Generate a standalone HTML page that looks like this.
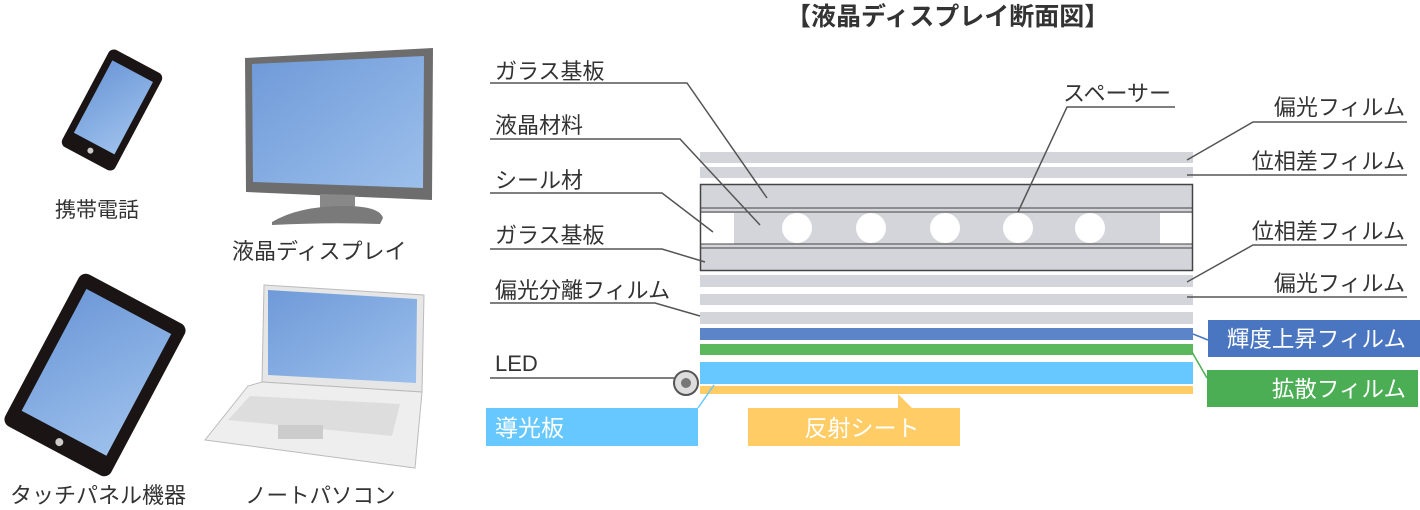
<!DOCTYPE html>
<html><head><meta charset="utf-8"><style>
html,body{margin:0;padding:0;background:#fff;width:1420px;height:510px;overflow:hidden}
svg{display:block}
text{font-family:"Liberation Sans","Noto Sans CJK JP",sans-serif;fill:#333}
</style></head><body>
<svg width="1420" height="510" viewBox="0 0 1420 510" xmlns="http://www.w3.org/2000/svg">
<defs>
<linearGradient id="scr" x1="0" y1="0" x2="1" y2="1"><stop offset="0" stop-color="#6f9ad8"/><stop offset="1" stop-color="#9cc0ec"/></linearGradient>
</defs>
<!-- devices -->
<g transform="translate(112,110) rotate(28)">
<rect x="-30" y="-55" width="60" height="110" rx="6" fill="#1a1414"/>
<rect x="-23" y="-44" width="46" height="82" fill="url(#scr)"/>
<circle cx="0" cy="46" r="3" fill="#ccc"/>
</g>
<text x="55" y="217" font-size="21">携帯電話</text>
<!-- monitor -->
<polygon points="245,58 433,48 432,200 246,192" fill="#6d6d6d"/>
<polygon points="252,64 424,56 423,188 253,182" fill="url(#scr)"/>
<polygon points="320,194 355,195 355,212 320,210" fill="#888"/>
<path d="M272,222 Q300,205 350,206 Q380,207 383,218 L380,224 Q330,222 272,225 Z" fill="#7a7a7a"/>
<text x="232" y="259" font-size="22">液晶ディスプレイ</text>
<!-- tablet -->
<g transform="translate(95,375) rotate(28)">
<rect x="-60" y="-86" width="120" height="172" rx="8" fill="#1a1414"/>
<rect x="-48" y="-72" width="96" height="138" fill="url(#scr)"/>
<circle cx="0" cy="76" r="4" fill="#ccc"/>
</g>
<text x="10" y="503" font-size="22">タッチパネル機器</text>
<!-- laptop -->
<polygon points="264,285 424,295 422,392 262,382" fill="#e6e6e6" stroke="#bbb"/>
<polygon points="268,290 417,299 416,383 268,375" fill="url(#scr)"/>
<polygon points="262,382 422,392 415,468 205,440 248,386" fill="#eee" stroke="#bbb"/>
<polygon points="250,396 400,404 392,436 228,420" fill="#ddd"/>
<rect x="278" y="425" width="45" height="14" fill="#ccc"/>
<text x="245" y="503" font-size="21.5">ノートパソコン</text>

<!-- title -->
<text x="786" y="25" font-size="25" font-weight="bold" fill="#222">【液晶ディスプレイ断面図】</text>

<!-- layers -->
<rect x="700" y="152" width="493" height="11" fill="#d3d5da"/>
<rect x="700" y="167" width="493" height="11" fill="#d3d5da"/>
<rect x="700" y="185" width="493" height="86" fill="#d3d5da"/>
<rect x="701" y="213" width="491" height="31" fill="#fff"/>
<rect x="734" y="213" width="426" height="31" fill="#d3d5da"/>
<g fill="#fff"><circle cx="797" cy="228" r="15"/><circle cx="871" cy="228" r="15"/><circle cx="945" cy="228" r="15"/><circle cx="1018" cy="228" r="15"/><circle cx="1090" cy="228" r="15"/></g>
<g stroke="#444" fill="none"><rect x="700.5" y="184.5" width="492" height="86" stroke-width="1.5"/>
<line x1="700" y1="208" x2="1193" y2="208"/><line x1="700" y1="212" x2="1193" y2="212"/>
<line x1="700" y1="244" x2="1193" y2="244"/><line x1="700" y1="248" x2="1193" y2="248"/></g>
<rect x="700" y="275" width="493" height="12" fill="#d3d5da"/>
<rect x="700" y="294" width="493" height="11" fill="#d3d5da"/>
<rect x="700" y="312" width="493" height="12" fill="#d3d5da"/>
<rect x="700" y="328" width="493" height="12" fill="#5b85c8"/>
<rect x="700" y="344" width="493" height="11" fill="#5cb85c"/>
<rect x="700" y="362" width="493" height="22" fill="#66c8ff"/>
<rect x="700" y="386" width="493" height="8" fill="#ffcc66"/>

<!-- leaders -->
<g stroke="#555" stroke-width="1.5" fill="none">
<polyline points="490,83 687,83 767,198"/>
<polyline points="490,139 680,139 760,225"/>
<polyline points="490,193 662,193 713,232"/>
<polyline points="490,249 662,249 705,262"/>
<polyline points="490,303 655,303 700,316"/>
<line x1="490" y1="378" x2="674" y2="378"/>
<polyline points="1175,107 1067,107 1018,212"/>
<polyline points="1407,122 1253,122 1187,160"/>
<line x1="1407" y1="175" x2="1187" y2="175"/>
<polyline points="1407,245 1253,245 1187,282"/>
<line x1="1407" y1="297" x2="1187" y2="297"/>
</g>
<circle cx="686" cy="383" r="12" fill="#ddd" stroke="#555" stroke-width="2"/>
<circle cx="686" cy="383" r="5" fill="#777"/>
<g font-size="22">
<text x="495" y="79">ガラス基板</text>
<text x="495" y="133">液晶材料</text>
<text x="495" y="188">シール材</text>
<text x="495" y="243">ガラス基板</text>
<text x="495" y="298">偏光分離フィルム</text>
<text x="495" y="371">LED</text>
<text x="1063" y="101">スペーサー</text>
<text x="1405" y="115" text-anchor="end">偏光フィルム</text>
<text x="1405" y="169" text-anchor="end">位相差フィルム</text>
<text x="1405" y="239" text-anchor="end">位相差フィルム</text>
<text x="1405" y="291" text-anchor="end">偏光フィルム</text>
</g>
<!-- colored label boxes -->
<rect x="486" y="408" width="212" height="38" fill="#66c8ff"/>
<line x1="698" y1="408" x2="714" y2="385" stroke="#66c8ff" stroke-width="1.5"/>
<text x="495" y="436" font-size="23" style="fill:#fff">導光板</text>
<rect x="748" y="408" width="212" height="38" fill="#ffcc66"/>
<polygon points="898,394 912,408 898,408" fill="#ffcc66"/>
<text x="862" y="436" font-size="23" text-anchor="middle" style="fill:#fff">反射シート</text>
<rect x="1208" y="320" width="212" height="37" fill="#4a75c0"/>
<polyline points="1193,334 1208,340" stroke="#4a75c0" stroke-width="1.5" fill="none"/>
<text x="1406" y="347" font-size="22.5" text-anchor="end" style="fill:#fff">輝度上昇フィルム</text>
<rect x="1207" y="370" width="211" height="37" fill="#4cae54"/>
<polyline points="1192,352 1207,378" stroke="#4cae54" stroke-width="1.5" fill="none"/>
<text x="1406" y="397" font-size="22.5" text-anchor="end" style="fill:#fff">拡散フィルム</text>
</svg>
</body></html>
